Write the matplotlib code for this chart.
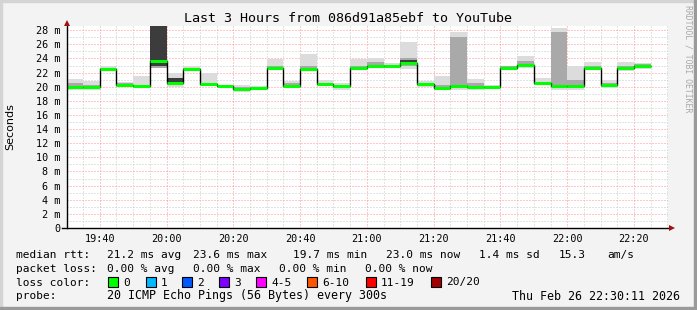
import matplotlib
matplotlib.use('Agg')
import matplotlib.pyplot as plt
from matplotlib.patches import Rectangle

# 5 minute bins (start time), values in ms
bin_starts = ['19:30', '19:35', '19:40', '19:45', '19:50', '19:55', '20:00', '20:05', '20:10',
              '20:15', '20:20', '20:25', '20:30', '20:35', '20:40', '20:45', '20:50', '20:55',
              '21:00', '21:05', '21:10', '21:15', '21:20', '21:25', '21:30', '21:35', '21:40',
              '21:45', '21:50', '21:55', '22:00', '22:05', '22:10', '22:15', '22:20']
median_ms = [20.0, 20.0, 22.5, 20.3, 20.1, 23.6, 20.5, 22.5, 20.4, 20.1, 19.7, 19.8, 22.7, 20.1,
             22.5, 20.4, 20.1, 22.7, 23.0, 23.0, 23.3, 20.4, 19.8, 20.1, 19.9, 19.9, 22.7, 23.1,
             20.5, 20.1, 20.1, 22.7, 20.3, 22.7, 23.0]
outer_lo = [19.6, 19.6, 22.3, 20.1, 19.9, 22.6, 19.9, 22.3, 20.1, 20.0, 19.3, 19.6, 22.4, 19.8,
            22.3, 20.2, 19.6, 22.4, 22.8, 22.8, 22.5, 20.0, 19.5, 19.6, 19.6, 19.8, 22.6, 22.7,
            20.2, 19.5, 19.5, 22.4, 19.8, 22.2, 22.5]
outer_hi = [21.1, 20.8, 22.9, 20.7, 21.5, 29.0, 22.0, 22.9, 22.0, 20.3, 20.2, 20.1, 23.9, 20.8,
            24.6, 20.9, 20.6, 23.9, 24.1, 23.3, 26.4, 20.8, 21.5, 27.7, 21.1, 20.2, 23.0, 24.4,
            21.3, 28.3, 22.9, 23.5, 20.9, 23.5, 23.3]
mid_lo = [19.8, 19.8, 22.4, 20.2, 19.9, 22.7, 20.2, 22.4, 20.2, 20.1, 19.5, 19.7, 22.5, 19.9,
          22.4, 20.3, 19.8, 22.5, 22.9, 22.9, 22.9, 20.2, 19.7, 19.9, 19.8, 19.9, 22.6, 22.9,
          20.3, 19.9, 19.8, 22.5, 20.0, 22.5, 22.9]
mid_hi = [20.6, 20.2, 22.7, 20.5, 20.3, 23.5, 21.2, 22.7, 20.6, 20.3, 20.0, 20.0, 23.0, 20.5,
          23.0, 20.6, 20.2, 22.9, 23.5, 23.1, 24.0, 20.6, 20.3, 27.0, 20.6, 20.0, 22.9, 23.6,
          20.6, 27.8, 21.0, 22.9, 20.5, 22.9, 23.2]
core_lo = list(median_ms)
core_hi = list(median_ms)
core_lo[5], core_hi[5] = 23.0, 29.0
core_lo[6], core_hi[6] = 20.6, 21.2
core_lo[20], core_hi[20] = 23.4, 23.8

x_ticks = ['19:40', '20:00', '20:20', '20:40', '21:00', '21:20', '21:40', '22:00', '22:20']
y_ticks = [0, 2, 4, 6, 8, 10, 12, 14, 16, 18, 20, 22, 24, 26, 28]
y_labels = ['0'] + ['%d m' % v for v in y_ticks[1:]]

title = 'Last 3 Hours from 086d91a85ebf to YouTube'
rtt_row = [('median rtt:', 16), ('21.2 ms avg', 107), ('23.6 ms max', 193), ('19.7 ms min', 293),
           ('23.0 ms now', 386), ('1.4 ms sd', 479), ('15.3', 559), ('am/s', 607)]
loss_row = [('packet loss:', 16), ('0.00 % avg', 107), ('0.00 % max', 193),
            ('0.00 % min', 279), ('0.00 % now', 365)]
loss_names = ['0', '1', '2', '3', '4-5', '6-10', '11-19', '20/20']
loss_colors = ['#00ff00', '#00b8ff', '#0059ff', '#7e00ff', '#ff00ff', '#ff5500', '#ff0000', '#a10000']
loss_box_x = [108, 146, 182, 219, 256, 307, 366, 431]
probe_text = '20 ICMP Echo Pings (56 Bytes) every 300s'
stamp = 'Thu Feb 26 22:30:11 2026'

W, H = 697, 310


def fx(x):
    return x / W


def fy(y):
    return 1 - y / H


def to_min(s):
    h, m = s.split(':')
    return int(h) * 60 + int(m) - 19 * 60


plt.rcParams['font.family'] = 'DejaVu Sans Mono'

fig = plt.figure(figsize=(W / 100, H / 100), dpi=100, facecolor='#f3f3f3')
# 3d-ish frame
fig.patches.append(Rectangle((0, fy(2)), 1, 2 / H, transform=fig.transFigure, color='#d4d4d4', zorder=0))
fig.patches.append(Rectangle((0, 0), 2 / W, 1, transform=fig.transFigure, color='#d4d4d4', zorder=0))
fig.patches.append(Rectangle((0, 0), 1, 3 / H, transform=fig.transFigure, color='#9a9a9a', zorder=0))
fig.patches.append(Rectangle((fx(694), 0), 3 / W, 1, transform=fig.transFigure, color='#9a9a9a', zorder=0))

ax = fig.add_axes([fx(67), fy(228), 601 / W, 202 / H])
ax.set_facecolor('white')

edges = [to_min(s) for s in bin_starts] + [to_min(bin_starts[-1]) + 5]
start = 30 + 11 / 60
ax.set_xlim(start, start + 180)
ax.set_ylim(0, 28.6)

ax.stairs(outer_hi, edges, baseline=outer_lo, fill=True, color='#dcdcdc', lw=0, zorder=2)
ax.stairs(mid_hi, edges, baseline=mid_lo, fill=True, color='#a9a9a9', lw=0, zorder=3)
ax.stairs(core_hi, edges, baseline=core_lo, fill=True, color='#3c3c3c', lw=0, zorder=4)
ax.stairs(median_ms, edges, baseline=None, color='black', lw=1.0, zorder=5)
ax.hlines(median_ms, edges[:-1], edges[1:], color='#00ff00', lw=2.2, zorder=6)

ax.set_xticks([to_min(t) for t in x_ticks])
ax.set_xticklabels(x_ticks)
ax.set_xticks(range(35, 211, 5), minor=True)
ax.set_yticks(y_ticks)
ax.set_yticklabels(y_labels)
ax.set_yticks(range(1, 29), minor=True)
ax.grid(which='minor', color='#c8c8c8', ls=(0, (1, 2)), lw=0.72)
ax.grid(which='major', color='#ff9090', ls=(0, (1, 2)), lw=0.72)
ax.set_axisbelow(True)
ax.tick_params(which='both', length=0, labelsize=7.3)
ax.tick_params(axis='y', pad=5)
ax.tick_params(axis='x', pad=4)
for s in ax.spines.values():
    s.set_visible(False)

# axes with arrows
fig.add_artist(plt.Line2D([fx(67), fx(67)], [fy(228), fy(24)], color='black', lw=1, transform=fig.transFigure))
fig.add_artist(plt.Line2D([fx(62), fx(670)], [fy(228), fy(228)], color='black', lw=1, transform=fig.transFigure))
fig.add_artist(plt.Line2D([fx(67)], [fy(23)], marker='^', ms=5, color='#a01010', mew=0, transform=fig.transFigure))
fig.add_artist(plt.Line2D([fx(672)], [fy(228)], marker='>', ms=5, color='#a01010', mew=0, transform=fig.transFigure))

fig.text(fx(348), fy(19), title, ha='center', va='center', fontsize=9.6)
fig.text(fx(10), fy(127), 'Seconds', rotation=90, ha='center', va='center', fontsize=8, family='DejaVu Sans')
fig.text(fx(688), fy(5), 'RRDTOOL / TOBI OETIKER', rotation=270, ha='center', va='top',
         fontsize=5.9, color='#a8a8a8')

for txt, x in rtt_row:
    fig.text(fx(x), fy(255), txt, ha='left', va='center', fontsize=8.0)
for txt, x in loss_row:
    fig.text(fx(x), fy(268.5), txt, ha='left', va='center', fontsize=8.0)
fig.text(fx(16), fy(282.5), 'loss color:', ha='left', va='center', fontsize=8.0)
for name, col, x in zip(loss_names, loss_colors, loss_box_x):
    fig.patches.append(Rectangle((fx(x), fy(287)), 10 / W, 10 / H, transform=fig.transFigure,
                                 facecolor=col, edgecolor='black', lw=0.8))
    fig.text(fx(x + 15), fy(282.5), name, ha='left', va='center', fontsize=8.0)
fig.text(fx(16), fy(296), 'probe:', ha='left', va='center', fontsize=8.0)
fig.text(fx(107), fy(296), probe_text, ha='left', va='center', fontsize=8.4)
fig.text(fx(680), fy(296), stamp, ha='right', va='center', fontsize=8.4)

fig.savefig('out.png', dpi=100, facecolor=fig.get_facecolor())
